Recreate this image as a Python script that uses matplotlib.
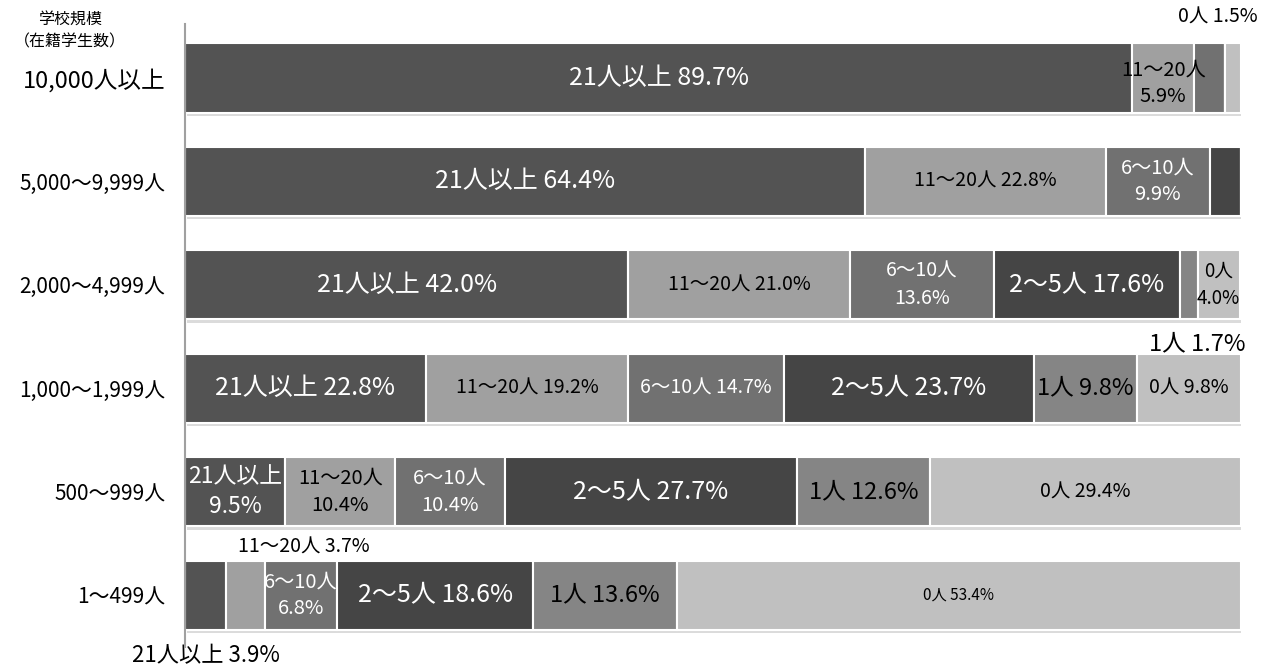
import numpy as np
import matplotlib
matplotlib.use('Agg')
import matplotlib.pyplot as plt
import matplotlib.patheffects as pe

plt.rcParams['font.family'] = ['Noto Sans CJK JP', 'DejaVu Sans']

# 学校規模（在籍学生数）
categories = ['10,000人以上', '5,000～9,999人', '2,000～4,999人',
              '1,000～1,999人', '500～999人', '1～499人']
# 教職員数の区分
groups = ['21人以上', '11～20人', '6～10人', '2～5人', '1人', '0人']

v_21over = [89.7, 64.4, 42.0, 22.8, 9.5, 3.9]
v_11_20 = [5.9, 22.8, 21.0, 19.2, 10.4, 3.7]
v_6_10 = [2.9, 9.9, 13.6, 14.7, 10.4, 6.8]
v_2_5 = [0.0, 2.9, 17.6, 23.7, 27.7, 18.6]
v_1 = [0.0, 0.0, 1.7, 9.8, 12.6, 13.6]
v_0 = [1.5, 0.0, 4.0, 9.8, 29.4, 53.4]

colors = ['#535353', '#a0a0a0', '#717171', '#454545', '#858585', '#c0c0c0']
txtcol = ['white', 'black', 'white', 'white', 'black', 'black']

# ラベルの書き方: (row, col) -> (mode, fontsize, dx[pt], dy[pt])
lab = {
    (0, 0): ('line', 18, 0, 0), (0, 1): ('stack', 14.5, 0, -4), (0, 5): ('above', 14, -11, 11),
    (1, 0): ('line', 18, 0, 0), (1, 1): ('line', 14, 0, 0), (1, 2): ('stack', 14.5, 0, 0),
    (2, 0): ('line', 18, 0, 0), (2, 1): ('line', 14, 0, 0), (2, 2): ('stack', 14, 0, 0),
    (2, 3): ('line', 18, 0, 0), (2, 4): ('below', 17, 6, -9), (2, 5): ('stack', 13.5, 0, 0),
    (3, 0): ('line', 18, 0, 0), (3, 1): ('line', 14, 0, 0), (3, 2): ('line', 14, 0, 0),
    (3, 3): ('line', 18, 0, 0), (3, 4): ('line', 17, 0, 0), (3, 5): ('line', 14, 0, 0),
    (4, 0): ('stack', 16.5, 0, 0), (4, 1): ('stack', 14.5, 0, 0), (4, 2): ('stack', 14.5, 0, 0),
    (4, 3): ('line', 18, 0, 0), (4, 4): ('line', 17, 0, 0), (4, 5): ('line', 14, 0, 0),
    (5, 0): ('below', 16, 0, -10), (5, 1): ('above', 14, 42, 2), (5, 2): ('stack', 14.5, 0, 0),
    (5, 3): ('line', 18, 0, 0), (5, 4): ('line', 17, 0, 0), (5, 5): ('line', 11, 0, 0),
}

data = np.array([v_21over, v_11_20, v_6_10, v_2_5, v_1, v_0]).T
y = np.arange(len(categories))
bar_h = 0.67

fig = plt.figure(figsize=(12.66, 6.69), dpi=100)
ax = fig.add_axes([0.1461, 0.033, 0.834, 0.931])

shadow = [pe.SimplePatchShadow(offset=(1.5, -2.5), shadow_rgbFace='#8a8a8a', alpha=0.3),
          pe.Normal()]

left = np.zeros(len(categories))
for j in range(len(groups)):
    w = data[:, j]
    bars = ax.barh(y, w, left=left, height=bar_h, color=colors[j],
                   edgecolor='white', linewidth=1.5)
    for b in bars:
        b.set_path_effects(shadow)
    for i in range(len(categories)):
        if (i, j) not in lab or w[i] == 0:
            continue
        mode, fs, dx, dy = lab[(i, j)]
        xc = left[i] + w[i] / 2
        if mode == 'line':
            ax.annotate('%s %.1f%%' % (groups[j], w[i]), (xc, y[i]),
                        xytext=(dx, dy), textcoords='offset points', ha='center',
                        va='center', fontsize=fs, color=txtcol[j])
        elif mode == 'stack':
            ax.annotate('%s\n%.1f%%' % (groups[j], w[i]), (xc, y[i]),
                        xytext=(dx, dy), textcoords='offset points', ha='center',
                        va='center', fontsize=fs, color=txtcol[j], linespacing=1.35)
        elif mode == 'above':
            ax.annotate('%s %.1f%%' % (groups[j], w[i]), (xc, y[i] - bar_h / 2),
                        xytext=(dx, dy), textcoords='offset points', ha='center',
                        va='bottom', fontsize=fs, color='black')
        elif mode == 'below':
            ax.annotate('%s %.1f%%' % (groups[j], w[i]), (xc, y[i] + bar_h / 2),
                        xytext=(dx, dy), textcoords='offset points', ha='center',
                        va='top', fontsize=fs, color='black')
    left += w

ax.set_xlim(0, 100)
ax.set_ylim(len(categories) - 0.5, -0.52)
ax.set_yticks(y)
ax.set_yticklabels(categories, fontsize=15)
ax.get_yticklabels()[0].set_fontsize(17)
ax.tick_params(axis='y', length=0, pad=14)
ax.set_xticks([])
for s in ['top', 'right', 'bottom']:
    ax.spines[s].set_visible(False)
ax.spines['left'].set_color('#a0a0a0')
ax.spines['left'].set_linewidth(1.5)
ax.spines['left'].set_zorder(5)

fig.text(0.055, 0.97, '学校規模', ha='center', va='center', fontsize=11.5)
fig.text(0.055, 0.937, '（在籍学生数）', ha='center', va='center', fontsize=11.5)

fig.savefig('out.png', dpi=100)
